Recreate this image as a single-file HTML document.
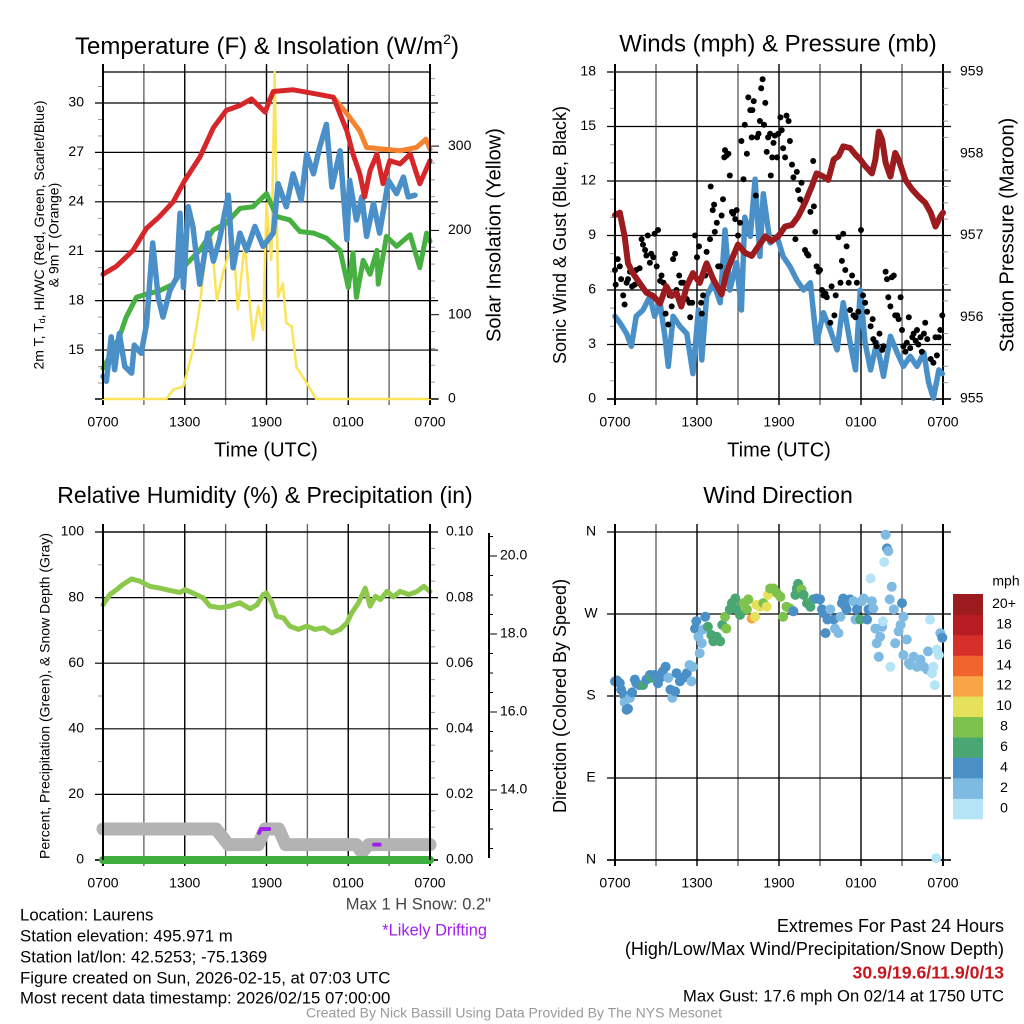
<!DOCTYPE html>
<html><head><meta charset="utf-8"><title>Mesonet Meteogram - Laurens</title>
<style>
html,body{margin:0;padding:0;background:#fff;}
svg{display:block;font-family:"Liberation Sans",Arial,sans-serif;}
</style></head>
<body>
<svg id="fig" width="1024" height="1024" viewBox="0 0 1024 1024" xmlns="http://www.w3.org/2000/svg">
<rect width="1024" height="1024" fill="#fff"/>
<g id="p1"></g>
<g id="p2"></g>
<g id="p3"></g>
<g id="p4"></g>

<text x="267" y="54" font-size="24" text-anchor="middle">Temperature (F) &amp; Insolation (W/m<tspan font-size="14" dy="-10">2</tspan><tspan dy="10">)</tspan></text>
<text x="778" y="45" font-size="24" text-anchor="middle" dominant-baseline="middle">Winds (mph) &amp; Pressure (mb)</text>
<text x="265" y="497" font-size="23" text-anchor="middle" dominant-baseline="middle">Relative Humidity (%) &amp; Precipitation (in)</text>
<text x="778" y="497" font-size="23" text-anchor="middle" dominant-baseline="middle">Wind Direction</text>

<text x="266" y="451" font-size="20" text-anchor="middle" dominant-baseline="middle">Time (UTC)</text>
<text x="779" y="451" font-size="20" text-anchor="middle" dominant-baseline="middle">Time (UTC)</text>

<text transform="translate(40,235) rotate(-90)" font-size="14" text-anchor="middle" dominant-baseline="middle">2m T, T<tspan font-size="9" dy="3">d</tspan><tspan dy="-3">, HI/WC (Red, Green, Scarlet/Blue)</tspan></text>
<text transform="translate(55,235) rotate(-90)" font-size="14" text-anchor="middle" dominant-baseline="middle">&amp; 9m T (Orange)</text>
<text transform="translate(495,235) rotate(-90)" font-size="20" text-anchor="middle" dominant-baseline="middle">Solar Insolation (Yellow)</text>
<text transform="translate(561,235) rotate(-90)" font-size="18" text-anchor="middle" dominant-baseline="middle">Sonic Wind &amp; Gust (Blue, Black)</text>
<text transform="translate(1008,235) rotate(-90)" font-size="20" text-anchor="middle" dominant-baseline="middle">Station Pressure (Maroon)</text>
<text transform="translate(46,696) rotate(-90)" font-size="14" text-anchor="middle" dominant-baseline="middle">Percent, Precipitation (Green), &amp; Snow Depth (Gray)</text>
<text transform="translate(561,696) rotate(-90)" font-size="18" text-anchor="middle" dominant-baseline="middle">Direction (Colored By Speed)</text>

<text x="491" y="905" font-size="16.5" fill="#444" text-anchor="end" dominant-baseline="middle">Max 1 H Snow: 0.2"</text>
<text x="487" y="931" font-size="16.4" fill="#a020f0" text-anchor="end" dominant-baseline="middle">*Likely Drifting</text>

<g font-size="16.8" dominant-baseline="middle">
<text x="20" y="916">Location: Laurens</text>
<text x="20" y="937">Station elevation: 495.971 m</text>
<text x="20" y="958">Station lat/lon: 42.5253; -75.1369</text>
<text x="20" y="979">Figure created on Sun, 2026-02-15, at 07:03 UTC</text>
<text x="20" y="999">Most recent data timestamp: 2026/02/15 07:00:00</text>
</g>
<g font-size="18" text-anchor="end" dominant-baseline="middle">
<text x="1004" y="927">Extremes For Past 24 Hours</text>
<text x="1004" y="950">(High/Low/Max Wind/Precipitation/Snow Depth)</text>
<text x="1004" y="974" fill="#c8161d" font-weight="bold" font-size="17.7">30.9/19.6/11.9/0/13</text>
<text x="1004" y="997" font-size="16.6">Max Gust: 17.6 mph On 02/14 at 1750 UTC</text>
</g>
<text x="514" y="1014" font-size="14" fill="#999" text-anchor="middle" dominant-baseline="middle">Created By Nick Bassill Using Data Provided By The NYS Mesonet</text>
</svg>

<script>
// ---------- shared ----------
const timeTickHours = [0, 6, 12, 18, 24];
const timeTickLabels = ["0700", "1300", "1900", "0100", "0700"];

// ---------- panel 1 data ----------
const redHours = [0,1.0,2.2,3.2,4.15,5.15,6.0,7.1,8.1,9.05,10.05,10.9,11.9,12.2,12.5,13.95,15.65,16.9,17.9,18.35,18.85,19.2,19.6,20.1,20.55,21.05,21.8,22.55,23.25,24];
const redTemp = [19.6,20.1,21.05,22.4,23.1,24.0,25.3,26.7,28.5,29.55,29.85,30.25,29.45,30.1,30.7,30.8,30.55,30.35,28.3,26.9,25.7,24.3,25.9,26.9,25.1,26.5,26.3,26.9,25.1,26.5];
const orangeHours = [16.9,17.9,18.85,19.35,20.55,21.8,23.0,23.7,24];
const orangeTemp = [30.35,29.35,28.3,27.3,27.2,27.1,27.3,27.8,27.2];
const greenHours = [0,0.5,1.2,1.7,2.45,3.2,4.15,5.15,6.1,7.1,8.1,9.05,10.05,11.0,12.0,12.75,13.7,14.45,15.45,16.4,17.4,18.0,18.35,18.6,19.1,19.6,20.1,20.2,20.8,21.55,22.55,23.25,23.75,24];
const greenDew = [13.9,14.6,15.8,17.0,18.2,18.4,18.6,19.0,20.2,21.05,22.3,22.7,23.6,23.7,24.5,23.1,22.9,22.2,22.1,21.8,21.05,18.8,20.9,18.2,20.45,19.6,21.05,19.0,21.9,21.3,22.0,20.0,22.1,21.6];
const blueHours = [0,0.25,0.6,0.85,1.2,1.6,2.1,2.3,2.8,3.2,3.65,4.05,4.4,4.9,5.4,5.65,5.9,6.25,6.6,7.1,7.7,8.1,8.55,9.2,9.55,10.05,10.55,11.15,11.75,12.5,12.85,13.45,13.95,14.55,14.95,15.45,15.9,16.4,16.8,17.4,17.9,18.1,18.6,19.0,19.35,19.85,20.3,20.95,21.55,22.05,22.4,22.9];
const blueChill = [13.4,13.1,15.8,13.8,16.0,14.0,13.6,15.3,14.8,16.6,21.5,18.2,17.0,18.6,19.4,23.3,18.8,23.7,22.5,19.0,22.1,20.4,21.7,24.4,20.0,22.1,21.05,22.5,21.3,22.1,25.1,23.7,25.7,24.1,26.9,25.7,27.3,28.7,24.9,27.1,21.7,25.3,22.9,24.3,21.9,23.9,22.1,25.3,24.5,25.5,24.3,24.4];
const solarHours = [0,4.65,5.15,5.9,6.6,7.1,7.6,7.95,8.35,8.8,9.55,9.9,10.4,11.0,11.4,11.75,12.0,12.35,12.6,12.85,13.2,13.45,13.85,14.2,14.95,15.65,24];
const solarVals = [0,0,11,15,58,110,181,192,117,149,189,106,185,70,110,82,232,165,395,121,137,90,86,38,19,0,0];
const tempTicks = [15,18,21,24,27,30];
const solarTicks = [0,100,200,300];

// ---------- panel 2 data ----------
const windHours = [0,0.35,0.85,1.2,1.55,2.05,2.55,2.9,3.3,3.65,3.9,4.25,4.75,5.25,5.7,6.1,6.35,6.7,7.2,7.7,8.05,8.4,8.9,9.25,9.5,9.9,10.25,10.6,10.85,11.35,11.85,12.3,12.8,13.3,13.8,14.3,14.75,15.25,15.75,16.25,16.7,17.2,17.6,17.95,18.3,18.7,19.15,19.65,20.15,20.65,21.1,21.6,22.1,22.6,22.95,23.3,23.7,23.95];
const windSpeed = [4.55,4.2,3.6,2.9,4.55,4.9,5.65,4.55,5.3,3.45,1.8,4.55,4.0,3.6,1.4,4.9,2.15,5.65,6.4,5.3,9.3,6.0,7.5,4.9,10.0,8.95,12.1,7.85,11.3,8.6,8.95,7.85,7.3,6.55,6.0,6.4,3.1,4.75,3.8,2.7,5.3,3.1,1.6,6.0,3.1,1.6,3.1,1.25,3.45,2.55,1.8,2.35,1.8,2.55,0.9,0.05,1.6,1.4];
const gustHours = [0,0.05,0.2,0.35,0.45,0.6,0.7,0.85,0.95,1.1,1.25,1.45,1.55,1.8,1.95,2.05,2.2,2.3,2.4,2.55,2.65,2.8,2.9,3.05,3.15,3.3,3.4,3.55,3.7,3.9,4.0,4.15,4.25,4.4,4.5,4.7,4.85,5.0,5.1,5.25,5.45,5.5,5.65,5.85,6.0,6.15,6.3,6.35,6.45,6.6,6.7,6.95,7.0,7.15,7.25,7.3,7.45,7.55,7.7,7.8,7.9,8.0,8.05,8.15,8.3,8.4,8.55,8.65,8.8,8.9,9.0,9.15,9.25,9.4,9.5,9.65,9.75,9.9,10.0,10.05,10.15,10.3,10.4,10.5,10.6,10.7,10.8,10.9,11.0,11.1,11.2,11.35,11.4,11.5,11.6,11.7,11.85,11.95,12.1,12.2,12.3,12.45,12.55,12.7,12.8,12.95,13.05,13.2,13.3,13.4,13.55,13.65,13.8,13.9,14.05,14.15,14.3,14.5,14.55,14.65,14.75,14.9,15.0,15.15,15.25,15.4,15.5,15.75,15.85,16.05,16.15,16.35,16.5,16.6,16.7,16.85,16.95,17.1,17.2,17.35,17.45,17.6,17.7,17.8,18.0,18.15,18.3,18.45,18.7,18.85,18.9,19.05,19.15,19.35,19.55,19.65,19.8,19.9,20.0,20.15,20.25,20.4,20.5,20.65,20.75,20.9,21.0,21.1,21.25,21.35,21.5,21.6,21.75,21.85,22.0,22.1,22.2,22.35,22.45,22.6,22.7,22.85,23.1,23.3,23.45,23.55,23.7,23.8,23.95];
const gustSpeed = [7.1,6.3,7.7,7.3,6.6,5.7,5.2,6.4,6.6,7.0,6.2,6.3,7.1,7.2,8.8,8.5,8.2,7.9,9.0,7.5,8.0,7.8,9.1,7.3,9.3,6.5,6.8,6.4,4.7,4.1,5.7,5.1,7.7,8.0,6.0,6.8,6.4,6.4,5.6,5.5,5.3,4.5,5.3,9.0,7.8,8.4,5.3,4.7,5.7,6.8,8.1,8.8,11.7,10.4,10.7,9.2,9.7,7.3,7.3,10.1,11.0,13.3,13.7,13.4,13.5,12.3,10.3,10.2,9.9,10.4,9.0,9.7,14.2,12.1,15.1,13.5,16.6,15.9,14.4,15.9,16.4,11.2,14.4,14.6,15.3,17.1,17.6,15.1,16.3,13.6,14.4,14.6,12.3,13.3,14.1,14.5,13.3,14.6,15.5,14.8,13.8,13.3,15.6,15.3,14.2,12.9,12.2,8.8,12.5,11.5,11.0,11.9,10.8,8.2,8.0,7.9,10.3,13.1,10.6,9.2,7.3,7.0,7.1,6.0,5.7,5.8,5.6,4.2,6.2,4.6,5.7,8.9,6.4,7.6,9.1,7.1,8.4,6.4,4.9,6.8,4.6,4.5,6.4,4.8,9.3,5.7,5.3,4.8,4.0,4.4,3.3,3.1,2.9,3.6,2.7,2.9,7.0,6.6,5.6,5.1,6.7,6.8,4.6,4.6,4.4,5.6,3.8,2.9,2.6,3.1,4.5,2.8,3.4,3.6,3.2,3.8,3.0,3.4,2.6,3.6,4.2,3.3,2.2,2.0,3.4,2.4,3.4,3.8,4.6];
const presHours = [0,0.35,0.7,0.95,1.3,1.8,2.3,2.8,3.3,3.75,4.15,4.5,4.85,5.25,5.7,6.2,6.7,7.2,7.8,8.15,8.65,9.0,9.5,10.0,10.5,11.0,11.45,11.95,12.45,12.95,13.4,13.9,14.4,14.75,15.25,15.6,16.0,16.35,16.7,17.2,17.6,17.95,18.3,18.8,19.05,19.3,19.55,19.8,20.15,20.5,20.75,21.25,21.75,22.2,22.7,23.1,23.45,23.8,24];
const presVals = [957.25,957.28,956.99,956.66,956.54,956.42,956.3,956.26,956.17,956.38,956.26,956.3,956.13,956.38,956.54,956.42,956.66,956.46,956.28,956.54,956.75,956.89,956.79,956.75,956.87,956.99,956.93,956.99,957.11,957.13,957.23,957.4,957.6,957.76,957.72,957.68,957.93,957.97,958.09,958.07,957.99,957.93,957.85,957.76,957.93,958.27,958.17,957.89,957.72,958.01,957.93,957.68,957.56,957.48,957.4,957.28,957.11,957.23,957.28];
const windTicks = [0,3,6,9,12,15,18];
const presTicks = [955,956,957,958,959];

// ---------- panel 3 data ----------
const rhHours = [0,0.5,1.0,1.45,2.1,2.7,3.45,4.15,4.9,5.65,6.0,6.6,7.35,7.85,8.6,9.3,10.05,10.8,11.3,11.75,12.0,12.4,12.75,13.25,13.7,14.35,14.95,15.55,16.2,16.8,17.4,17.9,18.25,18.75,19.25,19.6,20.0,20.35,20.85,21.3,21.8,22.45,23.05,23.55,24];
const rhVals = [77.8,80.9,82.4,84.0,85.7,85.0,83.4,82.9,82.2,81.6,82.4,81.4,79.9,77.4,76.9,77.4,78.4,76.6,77.8,80.9,81.4,78.4,74.3,73.8,71.3,70.3,71.3,70.3,70.8,69.2,70.3,72.3,75.3,78.4,82.9,77.4,80.4,79.4,81.9,80.2,81.9,80.9,81.9,83.4,81.9];
const snowHours = [0,8.3,9.2,11.4,11.9,12.9,13.4,18.6,19.0,19.5,24];
const snowDepth = [13.0,13.0,12.6,12.6,13.0,13.0,12.6,12.6,12.4,12.6,12.6];
const driftHours1 = [11.45,11.6,12.2];
const driftDepth1 = [12.9,13.0,13.0];
const driftHours2 = [19.9,20.3];
const driftDepth2 = [12.6,12.6];
const precipHours = [0,24];
const precipVals = [0,0];
const rhTicks = [0,20,40,60,80,100];
const precipTicks = ["0.00","0.02","0.04","0.06","0.08","0.10"];
const snowTicks = ["14.0","16.0","18.0","20.0"];

// ---------- panel 4 data ----------
const dirHours = [0,0.15,0.35,0.45,0.65,0.7,0.85,0.95,1.1,1.25,1.45,1.55,1.8,2.05,2.3,2.55,2.65,2.9,3.15,3.4,3.5,3.7,3.9,4.05,4.2,4.4,4.5,4.75,5.0,5.25,5.45,5.6,5.7,5.85,5.95,6.1,6.2,6.35,6.45,6.6,6.8,7.05,7.2,7.45,7.7,7.85,8.05,8.15,8.4,8.55,8.8,8.9,9.15,9.4,9.65,9.75,10.0,10.25,10.35,10.6,10.85,11.1,11.2,11.35,11.6,11.85,12.1,12.3,12.55,12.8,13.05,13.2,13.3,13.4,13.65,13.8,14.05,14.3,14.5,14.75,15.0,15.15,15.25,15.4,15.55,15.75,16.0,16.1,16.35,16.5,16.6,16.7,16.85,16.95,17.2,17.45,17.6,17.7,17.95,18.05,18.2,18.45,18.55,18.7,18.8,18.9,19.05,19.15,19.3,19.4,19.55,19.6,19.7,19.8,19.9,20.0,20.1,20.15,20.25,20.4,20.5,20.75,20.9,21.0,21.1,21.1,21.35,21.5,21.6,21.85,22.1,22.35,22.6,22.85,22.9,23.05,23.2,23.3,23.4,23.5,23.55,23.7,23.8,23.95];
const dirDeg = [196,197,194,187,181,173,165,166,178,184,198,194,192,192,198,203,200,203,194,201,207,212,200,187,178,185,205,196,200,205,214,196,212,254,262,245,227,238,253,267,256,247,240,245,240,258,267,254,275,282,287,275,269,282,275,286,265,267,280,278,282,278,291,298,298,293,289,267,278,276,273,291,298,303,297,291,282,278,286,287,286,275,271,249,264,275,264,254,249,267,282,287,278,275,286,284,264,275,264,284,287,264,275,309,284,276,254,238,223,245,256,262,327,357,342,339,286,212,300,275,238,251,258,282,267,225,242,216,214,223,212,220,212,209,229,264,205,212,192,2,231,225,249,244];
const dirSpeed = [4,4,4,4,4,2,4,4,2,4,4,4,4,6,4,4,6,4,4,4,4,4,2,4,2,4,4,4,4,4,2,2,2,4,4,2,2,2,2,4,6,6,6,6,6,6,8,8,6,6,6,6,6,8,8,8,12,10,10,10,8,10,10,8,8,8,8,8,8,8,4,6,6,6,8,6,6,6,6,4,4,4,4,4,4,2,4,2,2,2,4,4,4,4,4,2,2,4,6,2,2,4,4,0,2,2,2,2,2,2,2,0,0,2,4,2,2,0,2,2,2,2,2,4,2,2,2,2,2,2,2,2,2,2,2,0,0,0,0,0,0,0,2,4,2];
const speedBinLabels = ["0","2","4","6","8","10","12","14","16","18","20+"];
const speedBinColors = ["#b5e4f7","#7fbae3","#4a90c6","#4aa673","#7cc24c","#e6e15a","#f7a545","#f0632d","#d7302a","#b71c22","#9b1b1e"];
const dirTicks = [0,90,180,270,360];
const dirTickLabels = ["N","E","S","W","N"];

// ---------- helpers ----------
const NS = "http://www.w3.org/2000/svg";
function mk(parent, tag, attrs) {
  const el = document.createElementNS(NS, tag);
  for (const k in attrs) el.setAttribute(k, attrs[k]);
  parent.appendChild(el);
  return el;
}
function polyline(parent, xs, ys, xf, yf, color, width, name) {
  const pts = xs.map((h, i) => xf(h).toFixed(1) + "," + yf(ys[i]).toFixed(1)).join(" ");
  const el = mk(parent, "polyline", {points: pts, fill: "none", stroke: color, "stroke-width": width, "stroke-linejoin": "round", "stroke-linecap": "round"});
  
  
  return el;
}
function label(parent, x, y, txt, anchor, name, size) {
  const el = mk(parent, "text", {x: x, y: y, "font-size": size || 14, "text-anchor": anchor, "dominant-baseline": "middle"});
  el.textContent = txt;
  
  
  return el;
}
function frame(g, x0, x1, yT, yB, xf, majorY, topLine) {
  for (let h = 0; h <= 24; h += 3) {
    const x = xf(h);
    const major = (h % 6 === 0);
    const ln = mk(g, "line", {x1: x, x2: x, y1: yT - 8, y2: yB + 6, stroke: major ? "#000" : "#666", "stroke-width": (h === 0 || h === 24) ? 2 : 1.4});
    
    
  }
  majorY.forEach(y => {
    const ln = mk(g, "line", {x1: x0 - 8, x2: x1 + 8, y1: y, y2: y, stroke: "#000", "stroke-width": 1.2});
    
    
  });
  if (topLine) {
    const ln = mk(g, "line", {x1: x0, x2: x1, y1: yT, y2: yT, stroke: "#000", "stroke-width": 1.2});
    
    
  }
  const bl = mk(g, "line", {x1: x0 - 8, x2: x1 + 8, y1: yB, y2: yB, stroke: "#000", "stroke-width": 1.4});
  
  
  timeTickHours.forEach((h, i) => label(g, xf(h), yB + 24, timeTickLabels[i], "middle", "x-tick-label"));
}
function sideTicks(g, x, ys, dir, len, color) {
  ys.forEach(y => {
    const ln = mk(g, "line", {x1: x, x2: x + dir * len, y1: y, y2: y, stroke: color || "#999", "stroke-width": 1});
    
    
  });
}

// ---------- panel 1 ----------
(function () {
  const g = document.getElementById("p1");
  const x0 = 103, x1 = 430, yT = 72, yB = 399;
  const xf = h => x0 + h * (x1 - x0) / 24;
  const yT_ = t => 103 + (30 - t) * 16.47;
  const yS = s => Math.max(yT, yB - s * 0.843);
  frame(g, x0, x1, yT, yB, xf, tempTicks.map(yT_), true);
  const mt = []; for (let t = 13; t <= 31; t++) if (t % 3) mt.push(yT_(t));
  sideTicks(g, x0, mt, -1, 5);
  sideTicks(g, x1, solarTicks.map(s => yB - s * 0.843), 1, 9, "#000");
  const ms = []; for (let s = 20; s <= 380; s += 20) if (s % 100) ms.push(yB - s * 0.843);
  sideTicks(g, x1, ms, 1, 5);
  tempTicks.forEach(t => label(g, 84, yT_(t), String(t), "end", "temp-tick-label"));
  solarTicks.forEach(s => label(g, 448, yB - s * 0.843, String(s), "start", "solar-tick-label"));
  polyline(g, solarHours, solarVals, xf, yS, "#fbe35a", 2.5, "solar-insolation-line");
  polyline(g, greenHours, greenDew, xf, yT_, "#46b040", 5, "dewpoint-line");
  polyline(g, blueHours, blueChill, xf, yT_, "#4a8fc8", 5.5, "wind-chill-line");
  polyline(g, orangeHours, orangeTemp, xf, yT_, "#f5822f", 5, "9m-temperature-line");
  polyline(g, redHours, redTemp, xf, yT_, "#d6262a", 5, "2m-temperature-line");
  const ax = mk(g, "line", {x1: x0, x2: x0, y1: yT - 8, y2: yB, stroke: "#000", "stroke-width": 2});
   
  const ax2 = mk(g, "line", {x1: x1, x2: x1, y1: yT - 8, y2: yB, stroke: "#000", "stroke-width": 2});
   
})();

// ---------- panel 2 ----------
(function () {
  const g = document.getElementById("p2");
  const x0 = 615, x1 = 943, yT = 72, yB = 399;
  const xf = h => x0 + h * (x1 - x0) / 24;
  const yW = v => yB - v * (yB - yT) / 18;
  const yP = p => yB - (p - 955) * (yB - yT) / 4;
  frame(g, x0, x1, yT, yB, xf, windTicks.map(yW), false);
  const mt = []; for (let v = 1; v < 18; v++) if (v % 3) mt.push(yW(v));
  sideTicks(g, x0, mt, -1, 5);
  const mp = []; for (let k = 1; k < 20; k++) if (k % 5) mp.push(yP(955 + k * 0.2));
  sideTicks(g, x1, mp, 1, 5);
  windTicks.forEach(v => label(g, 596, yW(v), String(v), "end", "wind-tick-label"));
  presTicks.forEach(p => label(g, 960, yP(p), String(p), "start", "pressure-tick-label"));
  polyline(g, windHours, windSpeed, xf, yW, "#4a90c8", 5.5, "sonic-wind-line");
  gustHours.forEach((h, i) => {
    const c = mk(g, "circle", {cx: xf(h).toFixed(1), cy: yW(gustSpeed[i]).toFixed(1), r: 3, fill: "#000"});
    
    
  });
  polyline(g, presHours, presVals, xf, yP, "#9b1b1e", 6, "station-pressure-line");
  const ax = mk(g, "line", {x1: x0, x2: x0, y1: yT - 8, y2: yB, stroke: "#000", "stroke-width": 2});
   
})();

// ---------- panel 3 ----------
(function () {
  const g = document.getElementById("p3");
  const x0 = 103, x1 = 430, yT = 532, yB = 860;
  const xf = h => x0 + h * (x1 - x0) / 24;
  const yR = r => yB - r * (yB - yT) / 100;
  const ySn = s => 790 - (s - 14) * 39;
  frame(g, x0, x1, yT, yB, xf, rhTicks.map(yR), true);
  const mt = []; for (let r = 10; r < 100; r += 20) mt.push(yR(r));
  sideTicks(g, x0, mt, -1, 5);
  const mp = []; for (let r = 5; r < 100; r += 5) if (r % 20) mp.push(yR(r));
  sideTicks(g, x1, mp, 1, 5);
  rhTicks.forEach(r => label(g, 84, yR(r), String(r), "end", "rh-tick-label"));
  precipTicks.forEach((t, i) => label(g, 446, yR(rhTicks[i]), t, "start", "precip-tick-label"));
  const sa = mk(g, "line", {x1: 489, x2: 489, y1: 533, y2: 858, stroke: "#000", "stroke-width": 2});
   
  for (let k = 25; k <= 41; k++) {
    const s = k / 2;
    const major = (k % 4 === 0);
    const ln = mk(g, "line", {x1: 489, x2: 489 + (major ? 8 : 4), y1: ySn(s), y2: ySn(s), stroke: "#000", "stroke-width": 1});
     
  }
  snowTicks.forEach(t => label(g, 500, ySn(parseFloat(t)), t, "start", "snow-tick-label"));
  polyline(g, snowHours, snowDepth, xf, ySn, "#b3b3b3", 13, "snow-depth-line");
  polyline(g, driftHours1, driftDepth1, xf, ySn, "#a020f0", 4, "drifting-segment");
  polyline(g, driftHours2, driftDepth2, xf, ySn, "#a020f0", 4, "drifting-segment");
  polyline(g, rhHours, rhVals, xf, yR, "#8cc84b", 5, "relative-humidity-line");
  polyline(g, precipHours, precipVals, xf, yR, "#3fae3f", 8, "precipitation-line");
  const ax = mk(g, "line", {x1: x0, x2: x0, y1: yT - 8, y2: yB, stroke: "#000", "stroke-width": 2});
   
  const ax2 = mk(g, "line", {x1: x1, x2: x1, y1: yT - 8, y2: yB, stroke: "#000", "stroke-width": 2});
   
})();

// ---------- panel 4 ----------
(function () {
  const g = document.getElementById("p4");
  const x0 = 615, x1 = 943, yT = 532, yB = 860;
  const xf = h => x0 + h * (x1 - x0) / 24;
  const yD = d => yB - d * (yB - yT) / 360;
  frame(g, x0, x1, yT, yB, xf, dirTicks.map(yD), false);
  dirTicks.forEach((d, i) => label(g, 591, yD(d), dirTickLabels[i], "middle", "direction-tick-label"));
  dirHours.forEach((h, i) => {
    const bin = Math.min(10, Math.round(dirSpeed[i] / 2));
    const c = mk(g, "circle", {cx: xf(h).toFixed(1), cy: yD(dirDeg[i]).toFixed(1), r: 5, fill: speedBinColors[bin]});
    
    
  });
  const cbTop = 594, cbBot = 819, cbX = 953, cbW = 30;
  const bh = (cbBot - cbTop) / speedBinLabels.length;
  speedBinLabels.forEach((lab, i) => {
    const y = cbBot - (i + 1) * bh;
    const r = mk(g, "rect", {x: cbX, y: y.toFixed(1), width: cbW, height: (bh + 0.3).toFixed(1), fill: speedBinColors[i]});
    
    
    label(g, 1004, y + bh / 2, lab, "middle", "colorbar-label");
  });
  label(g, 1006, 582, "mph", "middle", "colorbar-title");
  const ax = mk(g, "line", {x1: x0, x2: x0, y1: yT - 8, y2: yB, stroke: "#000", "stroke-width": 2});
   
})();
</script>
</body></html>
